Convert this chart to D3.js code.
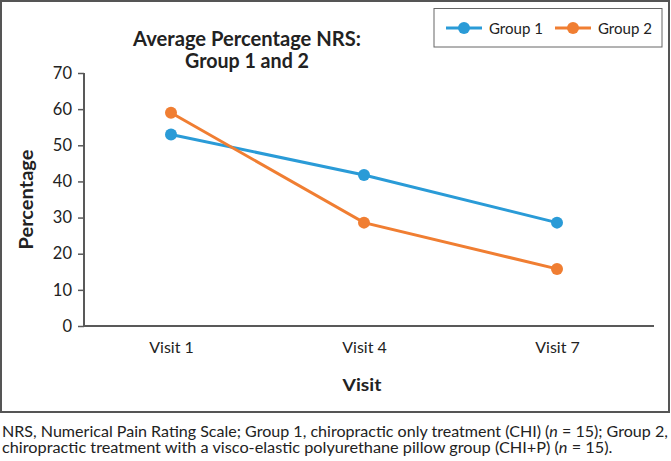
<!DOCTYPE html>
<html><head><meta charset="utf-8">
<script src="https://cdn.jsdelivr.net/npm/d3@7"></script>
<style>
html,body{margin:0;padding:0;background:#fff;}
svg text{font-family:Lato,"Open Sans",sans-serif;fill:#222;}
</style></head>
<body>
<svg id="chart" width="671" height="461"></svg>
<script>
const visits = ["Visit 1", "Visit 4", "Visit 7"];
const group1 = [53, 41.8, 28.6];
const group2 = [59, 28.6, 15.8];
const seriesNames = ["Group 1", "Group 2"];
const colors = ["#2A9BD7", "#F07E32"];
const yTicks = [0, 10, 20, 30, 40, 50, 60, 70];

const svg = d3.select("#chart");

// place a text in a group at (x,y) and squeeze it horizontally to a target width
function squeezed(parent, x, y, size, target, anchor, build) {
  const g = parent.append("g");
  const t = g.append("text").attr("font-size", size).attr("text-anchor", anchor || "start");
  build(t);
  const w = t.node().getComputedTextLength();
  g.attr("transform", `translate(${x},${y}) scale(${(target / w).toFixed(4)},1)`);
  return t;
}

// outer frame
svg.append("rect").attr("x", 1).attr("y", 1).attr("width", 668).attr("height", 411)
  .attr("fill", "none").attr("stroke", "#555").attr("stroke-width", 2);

const x = d3.scalePoint().domain(visits).range([171, 557]);
const y = d3.scaleLinear().domain([0, 70]).range([326, 73]);

// y axis
const yAxis = svg.append("g").attr("transform", "translate(84,0)")
  .call(d3.axisLeft(y).tickValues(yTicks).tickSize(6).tickPadding(6));
yAxis.select(".domain").attr("stroke", "#595959").attr("stroke-width", 2).attr("d", `M0,${y(70)}V${y(0)}`);
yAxis.selectAll(".tick line").attr("stroke", "#595959").attr("stroke-width", 1.5);
yAxis.selectAll(".tick text").attr("font-size", 16.5).attr("font-family", "Lato, sans-serif").attr("fill", "#222");

// x axis
const xAxis = svg.append("g").attr("transform", `translate(0,${y(0)})`)
  .call(d3.axisBottom(x).tickSize(0).tickPadding(16));
xAxis.select(".domain").attr("stroke", "#595959").attr("stroke-width", 2).attr("d", `M84,0H654`);
xAxis.selectAll(".tick text").attr("font-size", 16).attr("font-family", "Lato, sans-serif").attr("fill", "#222")
  .attr("dy", null).attr("y", 27);

// lines
const data = [group1, group2];
const line = d3.line().x((d, i) => x(visits[i])).y(d => y(d));
data.forEach((vals, k) => {
  svg.append("path").datum(vals).attr("d", line).attr("fill", "none")
    .attr("stroke", colors[k]).attr("stroke-width", 3);
  svg.selectAll(null).data(vals).enter().append("circle")
    .attr("cx", (d, i) => x(visits[i])).attr("cy", d => y(d)).attr("r", 6)
    .attr("fill", colors[k]);
});

// title
squeezed(svg, 247, 46, 20, 228, "middle", t => t.attr("font-weight", "bold").text("Average Percentage NRS:"));
squeezed(svg, 247, 68, 20, 124, "middle", t => t.attr("font-weight", "bold").text("Group 1 and 2"));

// axis titles
squeezed(svg, 362, 391, 17.5, 39, "middle", t => t.attr("font-weight", "bold").text("Visit"));
const ytg = svg.append("g").attr("transform", `translate(33,${(y(0) + y(70)) / 2}) rotate(-90)`);
squeezed(ytg, 0, 0, 19, 100, "middle", t => t.attr("font-weight", "bold").text("Percentage"));

// legend
svg.append("rect").attr("x", 434).attr("y", 8.5).attr("width", 228).attr("height", 38.5)
  .attr("fill", "#fff").attr("stroke", "#666").attr("stroke-width", 1);
const legX = [446, 555];
seriesNames.forEach((name, k) => {
  const g = svg.append("g").attr("transform", `translate(${legX[k]},28)`);
  g.append("line").attr("x1", 0).attr("x2", 36).attr("stroke", colors[k]).attr("stroke-width", 3);
  g.append("circle").attr("cx", 18).attr("r", 6).attr("fill", colors[k]);
  squeezed(g, 43, 5.5, 15.5, 54, "start", t => t.text(name));
});

// footnote
squeezed(svg, 2, 437, 14.5, 666, "start", t => {
  t.append("tspan").text("NRS, Numerical Pain Rating Scale; Group 1, chiropractic only treatment (CHI) (");
  t.append("tspan").attr("font-style", "italic").text("n");
  t.append("tspan").text(" = 15); Group 2,");
});
squeezed(svg, 2, 453, 14.5, 611, "start", t => {
  t.append("tspan").text("chiropractic treatment with a visco-elastic polyurethane pillow group (CHI+P) (");
  t.append("tspan").attr("font-style", "italic").text("n");
  t.append("tspan").text(" = 15).");
});
</script>
</body></html>
